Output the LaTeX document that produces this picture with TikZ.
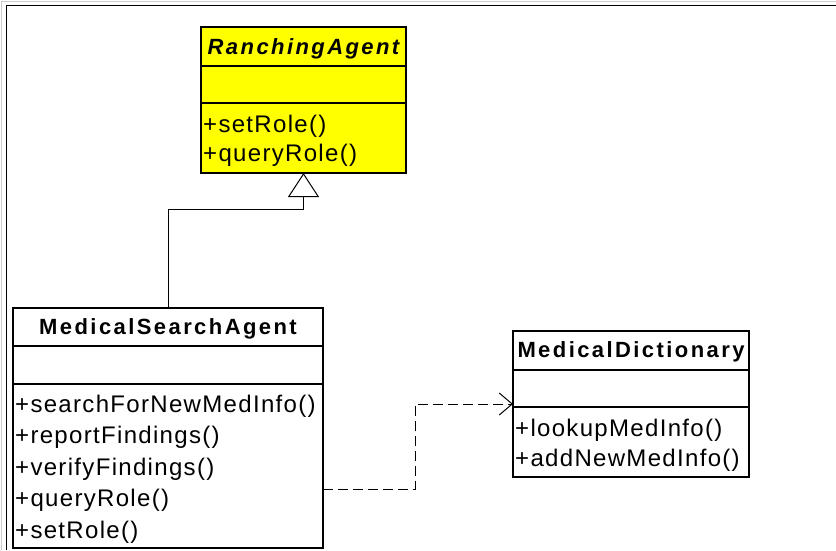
\documentclass[tikz,border=0pt]{standalone}
\usepackage{fontspec}
\setmainfont{Liberation Sans}
\newfontfamily\methf[LetterSpace=5.5]{Liberation Sans}
\newfontfamily\titf[LetterSpace=11]{Liberation Sans}
\usetikzlibrary{arrows.meta,calc}
\definecolor{umlyellow}{RGB}{255,255,0}
\begin{document}
\begin{tikzpicture}[x=1pt,y=-1pt,
  classbox/.style={draw,line width=1.3pt,inner sep=0pt,outer sep=0pt,anchor=north west},
  divline/.style={line width=1.3pt},
  titletext/.style={inner sep=0pt,anchor=base,font=\titf\fontsize{22}{26}\selectfont\bfseries},
  methtext/.style={inner sep=0pt,anchor=base west,font=\methf\fontsize{24}{28}\selectfont},
  conn/.style={line width=1pt},
  dep/.style={conn,dash pattern=on 10pt off 5pt,-{Straight Barb[length=13pt,width=22pt,line width=1pt]}},
  gen/.style={conn,-{Triangle[open,length=24pt,width=31pt,line width=1pt,fill=white]}}]
\useasboundingbox (0,0) rectangle (836,550);
% frame
\draw[gray!40,line width=1pt] (1,550) -- (1,1) -- (836,1);
\draw[line width=1.6pt] (6.5,550) -- (6.5,5.5) -- (836,5.5);

% RanchingAgent
\node[classbox,fill=umlyellow,minimum width=205pt,minimum height=146pt] (ra) at (201,27) {};
\draw[divline] ($(ra.north west)+(0,39)$) -- ($(ra.north east)+(0,39)$);
\draw[divline] ($(ra.north west)+(0,76)$) -- ($(ra.north east)+(0,76)$);
\node[titletext] (ratitle) at ($(ra.north)+(0,27)$) {\itshape RanchingAgent};
\node[methtext] (ram1) at ($(ra.north west)+(2,105)$) {+setRole()};
\node[methtext] (ram2) at ($(ra.north west)+(2,134)$) {+queryRole()};

% MedicalSearchAgent
\node[classbox,fill=white,minimum width=310pt,minimum height=240pt] (msa) at (13,308) {};
\draw[divline] ($(msa.north west)+(0,38)$) -- ($(msa.north east)+(0,38)$);
\draw[divline] ($(msa.north west)+(0,76)$) -- ($(msa.north east)+(0,76)$);
\node[titletext] (msatitle) at ($(msa.north)+(0,26)$) {MedicalSearchAgent};
\node[methtext] (msam1) at ($(msa.north west)+(2,104)$) {+searchForNewMedInfo()};
\node[methtext] (msam2) at ($(msa.north west)+(2,135.5)$) {+reportFindings()};
\node[methtext] (msam3) at ($(msa.north west)+(2,167)$) {+verifyFindings()};
\node[methtext] (msam4) at ($(msa.north west)+(2,198.5)$) {+queryRole()};
\node[methtext] (msam5) at ($(msa.north west)+(2,230)$) {+setRole()};

% MedicalDictionary
\node[classbox,fill=white,minimum width=236pt,minimum height=146pt] (md) at (513,331) {};
\draw[divline] ($(md.north west)+(0,39)$) -- ($(md.north east)+(0,39)$);
\draw[divline] ($(md.north west)+(0,76)$) -- ($(md.north east)+(0,76)$);
\node[titletext] (mdtitle) at ($(md.north)+(0,26)$) {MedicalDictionary};
\node[methtext] (mdm1) at ($(md.north west)+(2,105)$) {+lookupMedInfo()};
\node[methtext] (mdm2) at ($(md.north west)+(2,135)$) {+addNewMedInfo()};

% generalization
\draw[gen] (msa.north) -- ++(0,-99) -| (ra.south);

% dependency
\coordinate (d0) at (323,489);
\coordinate (bend) at (415,489);
\draw[dep] (d0) -- (bend) |- (md.west);
\end{tikzpicture}
\end{document}
